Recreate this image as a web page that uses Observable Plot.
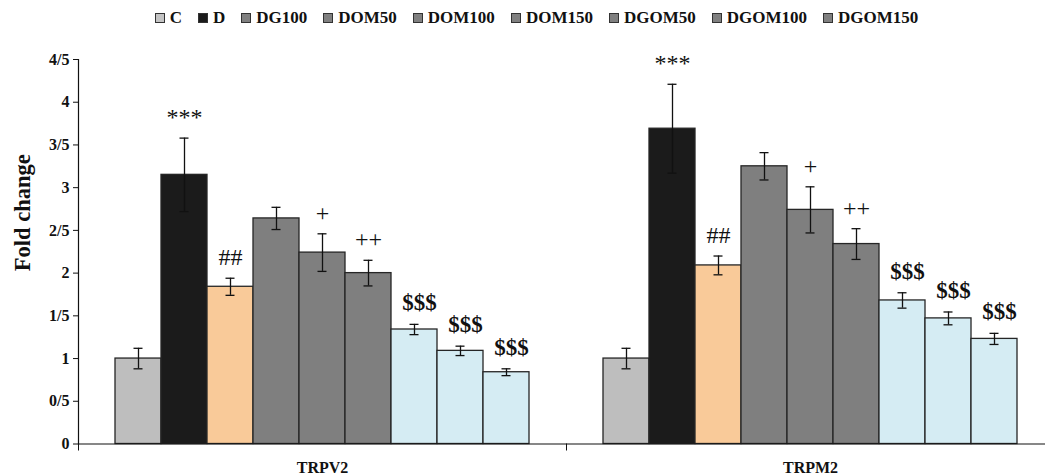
<!DOCTYPE html>
<html><head><meta charset="utf-8">
<script src="https://cdn.jsdelivr.net/npm/d3@7"></script>
<script src="https://cdn.jsdelivr.net/npm/@observablehq/plot@0.6"></script>
<style>
body{margin:0;background:#fff;overflow:hidden;width:1045px;height:476px}
#legend{height:36px;display:flex;align-items:center;justify-content:center;padding-left:28px;box-sizing:border-box;font:bold 17px "Liberation Serif",serif;color:#111}
.item{display:flex;align-items:center;margin:0 8px}
.sw{width:8px;height:8px;border:1px solid #333;margin-right:5px}
#chart svg{overflow:visible}
</style></head><body>
<div id="legend"></div>
<div id="chart"></div>
<script>
const genes = ["TRPV2", "TRPM2"];
const groups = ["C", "D", "DG100", "DOM50", "DOM100", "DOM150", "DGOM50", "DGOM100", "DGOM150"];
const trpv2Mean = [1.00, 3.15, 1.84, 2.64, 2.24, 2.00, 1.34, 1.09, 0.84];
const trpv2Err  = [0.12, 0.43, 0.10, 0.13, 0.22, 0.15, 0.06, 0.055, 0.04];
const trpm2Mean = [1.00, 3.69, 2.09, 3.25, 2.74, 2.34, 1.68, 1.47, 1.23];
const trpm2Err  = [0.12, 0.52, 0.11, 0.16, 0.27, 0.18, 0.09, 0.075, 0.065];
const trpv2Sig  = ["", "***", "##", "", "+", "++", "$$$", "$$$", "$$$"];
const trpm2Sig  = ["", "***", "##", "", "+", "++", "$$$", "$$$", "$$$"];
const yTicks = [0, 0.5, 1, 1.5, 2, 2.5, 3, 3.5, 4, 4.5];
const yTickLabels = ["0", "0/5", "1", "1/5", "2", "2/5", "3", "3/5", "4", "4/5"];

// styles
const barColors = ["#bebebe", "#1b1b1b", "#f9ca99", "#7f7f7f", "#7f7f7f", "#7f7f7f", "#d5ecf3", "#d5ecf3", "#d5ecf3"];
const legendColors = ["#c4c4c4", "#1b1b1b", "#808080", "#808080", "#808080", "#808080", "#808080", "#808080", "#808080"];

const rows = [];
genes.forEach((g, gi) => {
  const m = gi === 0 ? trpv2Mean : trpm2Mean;
  const e = gi === 0 ? trpv2Err : trpm2Err;
  const s = gi === 0 ? trpv2Sig : trpm2Sig;
  groups.forEach((k, i) => rows.push({gene: g, group: k, mean: m[i], err: e[i], sig: s[i]}));
});

// legend
const lg = document.getElementById("legend");
groups.forEach((k, i) => {
  const it = document.createElement("div");
  it.className = "item";
  const sw = document.createElement("span");
  sw.className = "sw";
  sw.style.background = legendColors[i];
  const tx = document.createElement("span");
  tx.textContent = k;
  it.appendChild(sw); it.appendChild(tx);
  lg.appendChild(it);
});

const serif = "'Liberation Serif', 'Times New Roman', serif";
const chart = Plot.plot({
  width: 1045,
  height: 440,
  marginLeft: 78,
  marginRight: -9,
  marginTop: 23,
  marginBottom: 32.5,
  style: {fontFamily: serif, background: "#fff", color: "#111"},
  fx: {domain: genes, padding: 0, label: null, axis: null},
  x: {domain: groups, paddingInner: 0, paddingOuter: 0.755, axis: null},
  y: {domain: [0, 4.5], label: null},
  color: {domain: groups, range: barColors},
  marks: [
    Plot.barY(rows, {fx: "gene", x: "group", y: "mean", fill: "group", stroke: "#262626", strokeWidth: 1.3}),
    Plot.ruleX(rows, {fx: "gene", x: "group", y1: d => d.mean - d.err, y2: d => d.mean + d.err, stroke: "#111", strokeWidth: 1.3}),
    Plot.tickY(rows, {fx: "gene", x: "group", y: d => d.mean + d.err, stroke: "#111", strokeWidth: 1.3, insetLeft: 18.5, insetRight: 18.5}),
    Plot.tickY(rows, {fx: "gene", x: "group", y: d => d.mean - d.err, stroke: "#111", strokeWidth: 1.3, insetLeft: 18.5, insetRight: 18.5}),
    Plot.text(rows.filter(d => d.sig && d.sig[0] !== "$"), {fx: "gene", x: "group", y: d => d.mean + d.err, text: "sig", dy: -13, lineAnchor: "bottom", fontSize: 24, fill: "#111"}),
    Plot.text(rows.filter(d => d.sig && d.sig[0] === "$"), {fx: "gene", x: "group", y: d => d.mean + d.err, text: "sig", dy: -14, dx: 5, lineAnchor: "bottom", fontSize: 23, fontWeight: "bold", fill: "#111"}),
    Plot.ruleY([0], {stroke: "#111", strokeWidth: 1.2}),
    Plot.frame({anchor: "left", facet: "super", stroke: "#111", strokeWidth: 1.2}),
    Plot.axisY({ticks: yTicks, tickFormat: (d) => yTickLabels[yTicks.indexOf(d)], tickSize: 5, tickPadding: 4, fontSize: 16, fontWeight: "bold", stroke: "#111", label: null}),
    Plot.axisFx({anchor: "bottom", tickSize: 7, dx: -244, tickFormat: () => "", stroke: "#111", label: null}),
    Plot.axisFx({anchor: "bottom", tickSize: 0, tickPadding: 18, fontSize: 16, fontWeight: "bold", label: null}),
    Plot.text(["Fold change"], {frameAnchor: "left", textAnchor: "middle", dx: -56, dy: -39, rotate: -90, fontSize: 22.5, fontWeight: "bold", facet: "super", fill: "#111"})
  ]
});
document.getElementById("chart").appendChild(chart);
</script>
</body></html>
